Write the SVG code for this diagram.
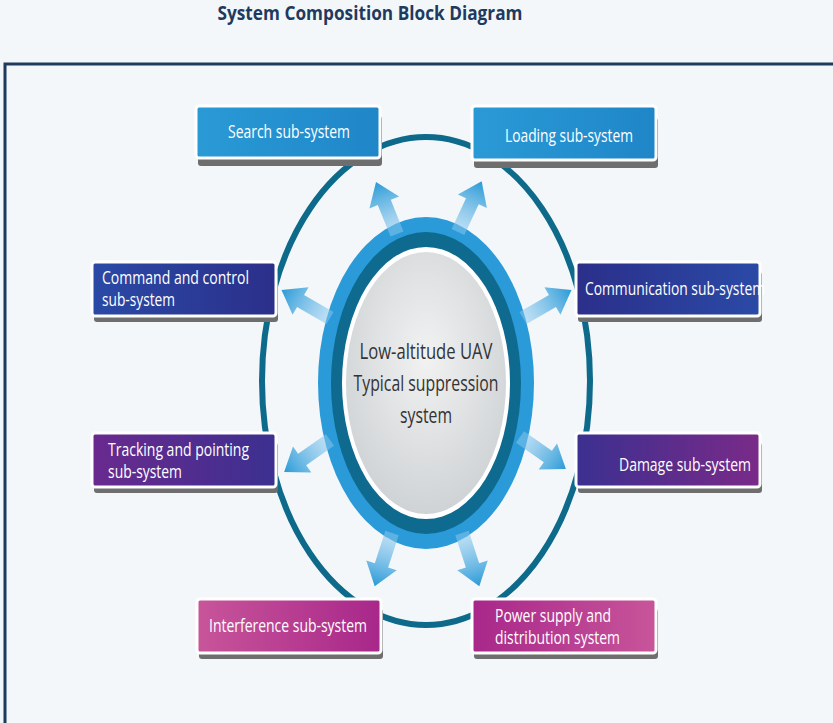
<svg xmlns="http://www.w3.org/2000/svg" width="833" height="723" viewBox="0 0 833 723">
<defs>
<linearGradient id="gBlue" x1="0" y1="0" x2="1" y2="0"><stop offset="0" stop-color="#2a9ad6"/><stop offset="1" stop-color="#1f86c8"/></linearGradient>
<linearGradient id="gNavy" x1="0" y1="0" x2="1" y2="0"><stop offset="0" stop-color="#2a4aa6"/><stop offset="1" stop-color="#2b2f8a"/></linearGradient>
<linearGradient id="gNavyR" x1="0" y1="0" x2="1" y2="0"><stop offset="0" stop-color="#2b2f8a"/><stop offset="1" stop-color="#2a4aa6"/></linearGradient>
<linearGradient id="gPurp" x1="0" y1="0" x2="1" y2="0"><stop offset="0" stop-color="#6a2a8e"/><stop offset="1" stop-color="#3b3090"/></linearGradient>
<linearGradient id="gPurpR" x1="0" y1="0" x2="1" y2="0"><stop offset="0" stop-color="#3b3090"/><stop offset="1" stop-color="#7a2a88"/></linearGradient>
<linearGradient id="gPink" x1="0" y1="0" x2="1" y2="0"><stop offset="0" stop-color="#c8559a"/><stop offset="1" stop-color="#a8278a"/></linearGradient>
<linearGradient id="gPinkR" x1="0" y1="0" x2="1" y2="0"><stop offset="0" stop-color="#a8278a"/><stop offset="1" stop-color="#c8559a"/></linearGradient>
<linearGradient id="gArrow" x1="0" y1="0" x2="1" y2="0"><stop offset="0" stop-color="#8fcaf0" stop-opacity="0.5"/><stop offset="1" stop-color="#2a9ad6"/></linearGradient>
<radialGradient id="gCore" cx="0.5" cy="0.4" r="0.6"><stop offset="0" stop-color="#f2f2f2"/><stop offset="1" stop-color="#cfd3d5"/></radialGradient>
<path id="arr" d="M0,-7 L34,-7 L34,-16 L56,0 L34,16 L34,7 L0,7 Z"/>
</defs>
<style>
.sh{fill:#6e6e6e}
.bx{stroke:#ffffff;stroke-width:3}
.t{font-family:"Open Sans","Liberation Sans",sans-serif;font-size:18px;fill:#ffffff}
.ct{font-family:"Open Sans","Liberation Sans",sans-serif;font-size:22px;fill:#333333;text-anchor:middle}
.ar{fill:url(#gArrow)}
</style>
<rect width="833" height="723" fill="#f3f7fa"/>
<text x="370" y="20" text-anchor="middle" font-family="'Open Sans','Liberation Sans',sans-serif" font-weight="bold" font-size="20" fill="#1f3a5f" textLength="305" lengthAdjust="spacingAndGlyphs">System Composition Block Diagram</text>
<path d="M5,723 V64 H833" fill="none" stroke="#1f3a5f" stroke-width="3"/>
<g id="center">
<ellipse cx="426" cy="381" rx="164" ry="244" fill="none" stroke="#0d6a8a" stroke-width="6"/>
<ellipse cx="426" cy="383" rx="108" ry="166" fill="#2b9ad8"/>
<ellipse cx="426" cy="383" rx="95" ry="151" fill="#0e6b8f"/>
<ellipse cx="426" cy="383" rx="84" ry="136" fill="#ffffff"/>
<ellipse cx="426" cy="383" rx="80" ry="131" fill="url(#gCore)"/>
<text class="ct" x="426" y="359" textLength="133" lengthAdjust="spacingAndGlyphs">Low-altitude UAV</text>
<text class="ct" x="426" y="391" textLength="145" lengthAdjust="spacingAndGlyphs">Typical suppression</text>
<text class="ct" x="426" y="423" textLength="52" lengthAdjust="spacingAndGlyphs">system</text>
</g>
<g id="connectors">
<use href="#arr" class="ar" transform="translate(397,234) rotate(-112)"/>
<use href="#arr" class="ar" transform="translate(458,232) rotate(-65)"/>
<use href="#arr" class="ar" transform="translate(330,318) rotate(-150)"/>
<use href="#arr" class="ar" transform="translate(523,318) rotate(-30)"/>
<use href="#arr" class="ar" transform="translate(330,440) rotate(145)"/>
<use href="#arr" class="ar" transform="translate(520,437) rotate(35)"/>
<use href="#arr" class="ar" transform="translate(392,533) rotate(108)"/>
<use href="#arr" class="ar" transform="translate(462,533) rotate(72)"/>
</g>
<g id="search"><rect class="sh" x="198" y="116" width="184" height="50" rx="3"/><rect class="bx" x="196" y="106" width="184" height="52" rx="3" fill="url(#gBlue)"/><text class="t" x="228" y="138" textLength="122" lengthAdjust="spacingAndGlyphs">Search sub-system</text></g>
<g id="loading"><rect class="sh" x="474" y="118" width="184" height="50" rx="3"/><rect class="bx" x="472" y="106" width="184" height="54" rx="3" fill="url(#gBlue)"/><text class="t" x="505" y="142" textLength="128" lengthAdjust="spacingAndGlyphs">Loading sub-system</text></g>
<g id="command"><rect class="sh" x="94" y="272" width="184" height="50" rx="3"/><rect class="bx" x="92" y="262" width="184" height="54" rx="3" fill="url(#gNavy)"/><text class="t" x="102" y="284" textLength="147" lengthAdjust="spacingAndGlyphs">Command and control</text><text class="t" x="102" y="306" textLength="73" lengthAdjust="spacingAndGlyphs">sub-system</text></g>
<g id="communication"><rect class="sh" x="578" y="272" width="184" height="50" rx="3"/><rect class="bx" x="576" y="262" width="184" height="54" rx="3" fill="url(#gNavyR)"/><text class="t" x="585" y="295" textLength="180" lengthAdjust="spacingAndGlyphs">Communication sub-system</text></g>
<g id="tracking"><rect class="sh" x="94" y="443" width="184" height="50" rx="3"/><rect class="bx" x="92" y="433" width="184" height="54" rx="3" fill="url(#gPurp)"/><text class="t" x="108" y="456" textLength="141" lengthAdjust="spacingAndGlyphs">Tracking and pointing</text><text class="t" x="108" y="478" textLength="74" lengthAdjust="spacingAndGlyphs">sub-system</text></g>
<g id="damage"><rect class="sh" x="578" y="443" width="184" height="50" rx="3"/><rect class="bx" x="576" y="433" width="184" height="54" rx="3" fill="url(#gPurpR)"/><text class="t" x="619" y="471" textLength="132" lengthAdjust="spacingAndGlyphs">Damage sub-system</text></g>
<g id="interference"><rect class="sh" x="199" y="609" width="184" height="50" rx="3"/><rect class="bx" x="197" y="599" width="184" height="54" rx="3" fill="url(#gPink)"/><text class="t" x="209" y="632" textLength="158" lengthAdjust="spacingAndGlyphs">Interference sub-system</text></g>
<g id="power"><rect class="sh" x="474" y="609" width="184" height="50" rx="3"/><rect class="bx" x="472" y="599" width="184" height="54" rx="3" fill="url(#gPinkR)"/><text class="t" x="495" y="622" textLength="116" lengthAdjust="spacingAndGlyphs">Power supply and</text><text class="t" x="495" y="644" textLength="125" lengthAdjust="spacingAndGlyphs">distribution system</text></g>
</svg>
